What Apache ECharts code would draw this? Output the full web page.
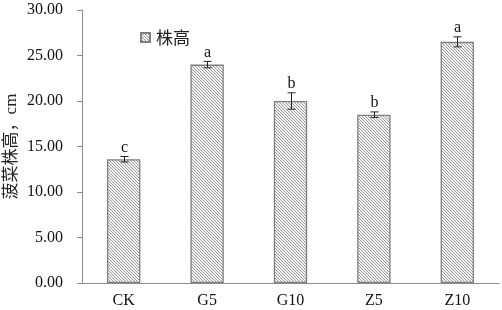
<!DOCTYPE html>
<html><head><meta charset="utf-8">
<script src="https://cdn.jsdelivr.net/npm/echarts@6/dist/echarts.min.js"></script>
<style>html,body{margin:0;padding:0;background:#fff}#c{width:502px;height:310px}</style>
</head><body><div id="c"></div>
<script>
var categories = ['CK', 'G5', 'G10', 'Z5', 'Z10'];
var heights = [13.6, 24.0, 20.0, 18.5, 26.5];
var errors = [0.3, 0.35, 0.9, 0.3, 0.55];
var letters = ['c', 'a', 'b', 'b', 'a'];
var seriesName = '株高';
var yAxisName = '菠菜株高，cm';

function hatch() {
  var c = document.createElement('canvas');
  c.width = 3; c.height = 3;
  var g = c.getContext('2d');
  g.fillStyle = '#f4f4f4'; g.fillRect(0, 0, 3, 3);
  g.fillStyle = '#9a9a9a';
  g.fillRect(0, 0, 1, 1); g.fillRect(1, 1, 1, 1); g.fillRect(2, 2, 1, 1);
  return c;
}
var pat = { image: hatch(), repeat: 'repeat' };

var chart = echarts.init(document.getElementById('c'));
var serif = '"Liberation Serif","Times New Roman",serif';
chart.setOption({
  animation: false,
  grid: { left: 82, right: 3, top: 10, bottom: 27, containLabel: false, outerBoundsMode: 'none' },
  legend: {
    left: 135, top: 24, itemWidth: 9, itemHeight: 9, itemGap: 4,
    data: [{ name: seriesName, icon: 'rect' }],
    textStyle: { fontFamily: '"Noto Sans CJK SC"', fontSize: 17, color: '#222', padding: [0, 0, 0, 1] }
  },
  xAxis: {
    type: 'category', data: categories,
    axisLine: { lineStyle: { color: '#8c8c8c', width: 1 } },
    axisTick: { show: false },
    axisLabel: { fontFamily: serif, fontSize: 16, color: '#111', margin: 10 }
  },
  yAxis: {
    type: 'value', min: 0, max: 30, interval: 5,
    name: yAxisName, nameLocation: 'middle', nameGap: 62, nameRotate: 90, nameMoveOverlap: false,
    nameTextStyle: { fontFamily: '"Liberation Serif","Noto Sans CJK SC"', fontSize: 17, color: '#222' },
    axisLine: { show: true, lineStyle: { color: '#8c8c8c', width: 1 } },
    axisTick: { show: true, inside: false, length: 5, lineStyle: { color: '#8c8c8c' } },
    splitLine: { show: false },
    axisLabel: { fontFamily: serif, fontSize: 16, color: '#111', margin: 19,
      formatter: function (v) { return v.toFixed(2); } }
  },
  series: [{
    name: seriesName, type: 'bar', data: heights, barWidth: '40%',
    itemStyle: { color: pat, borderColor: '#7f7f7f', borderWidth: 1.3 }
  }, {
    type: 'custom',
    data: heights.map(function (h, i) { return [i, h, errors[i]]; }),
    z: 10,
    renderItem: function (params, api) {
      var i = api.value(0), h = api.value(1), e = api.value(2);
      var top = api.coord([i, h + e]);
      var bot = api.coord([i, h - e]);
      var x = Math.round(top[0]) + 0.5, cw = 4;
      var st = { stroke: '#222', lineWidth: 1 };
      return {
        type: 'group', children: [
          { type: 'line', shape: { x1: x, y1: top[1], x2: x, y2: bot[1] }, style: st },
          { type: 'line', shape: { x1: x - cw, y1: top[1], x2: x + cw, y2: top[1] }, style: st },
          { type: 'line', shape: { x1: x - cw, y1: bot[1], x2: x + cw, y2: bot[1] }, style: st },
          { type: 'text', style: { text: letters[params.dataIndex], x: x, y: top[1] - 1,
              textAlign: 'center', textVerticalAlign: 'bottom',
              font: '16px ' + serif, fill: '#111' } }
        ]
      };
    }
  }]
});
</script></body></html>
